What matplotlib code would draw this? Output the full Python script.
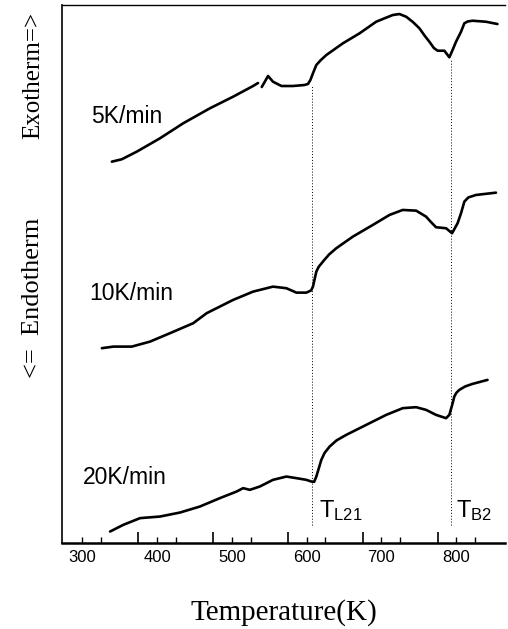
import numpy as np
import matplotlib
matplotlib.use('Agg')
import matplotlib.pyplot as plt

plt.rcParams['font.family'] = 'Liberation Sans'

# DSC traces (temperature in K, signal in arbitrary units)
T_5 = [339.6, 352.9, 372.9, 404.0, 435.0, 470.7, 501.7, 528.4, 535.0, np.nan,
       540.0, 548.4, 555.0, 566.3, 581.7, 597.0, 601.7, 605.0, 608.4, 612.9,
       619.0, 626.3, 648.4, 670.7, 692.9, 705.0, 715.0, 724.0, 733.0, 742.0,
       750.7, 758.0, 764.0, 770.0, 775.0, 784.0, 790.7, 795.0, 799.6, 806.3,
       810.7, 815.0, 821.7, 839.6, 855.0]
S_5 = [381.3, 383.7, 391.3, 404.7, 419.7, 434.7, 446.3, 457.0, 460.0, np.nan,
       456.0, 467.0, 461.3, 457.0, 457.0, 458.0, 459.0, 463.0, 469.7, 478.0,
       483.0, 488.0, 499.7, 509.7, 521.3, 525.0, 528.0, 529.0, 526.3, 521.0,
       514.7, 507.0, 501.3, 495.0, 492.3, 492.3, 485.7, 493.0, 501.3, 511.3,
       519.7, 521.5, 522.3, 521.3, 519.0]

T_10 = [326.3, 341.7, 366.3, 390.7, 417.3, 448.4, 466.3, 479.6, 501.7, 528.4,
        555.0, 572.9, 586.3, 599.6, 606.0, 608.4, 612.9, 616.0, 621.7, 630.0,
        639.6, 661.7, 688.4, 710.7, 728.4, 746.3, 759.6, 766.0, 772.9, 786.3,
        794.3, 801.7, 806.3, 810.7, 816.0, 826.3, 853.0]
S_10 = [194.7, 196.3, 196.3, 201.3, 209.7, 219.7, 229.7, 234.7, 243.0, 251.3,
        256.3, 254.7, 250.3, 250.3, 252.5, 256.3, 271.3, 276.0, 281.3, 288.5,
        294.7, 306.3, 318.0, 328.0, 333.0, 332.3, 326.3, 321.0, 315.7, 314.7,
        309.7, 319.7, 329.7, 341.3, 345.5, 348.0, 350.3]

T_20 = [337.3, 355.0, 377.3, 404.0, 430.7, 457.3, 484.0, 506.3, 515.1, 524.0,
        537.3, 555.0, 572.9, 586.3, 599.6, 606.3, 610.0, 612.9, 616.0, 619.6,
        624.0, 630.7, 640.0, 652.9, 679.6, 706.3, 728.4, 746.3, 759.6, 772.9,
        786.3, 790.7, 795.1, 797.3, 800.0, 804.0, 812.0, 821.7, 841.7]
S_20 = [11.3, 18.0, 24.7, 26.3, 30.3, 36.3, 44.7, 51.3, 54.7, 53.0,
        56.3, 63.0, 66.3, 64.7, 63.0, 61.3, 61.0, 66.3, 74.0, 83.0,
        90.0, 96.3, 102.5, 108.0, 118.0, 128.0, 134.7, 135.7, 133.0, 128.0,
        124.7, 128.0, 139.7, 146.3, 150.0, 153.0, 156.5, 159.0, 163.0]

rates = ['5K/min', '10K/min', '20K/min']
T_L21 = 606.7
T_B2 = 793.0

fig = plt.figure(figsize=(5.08, 6.29), dpi=100)
ax = fig.add_axes([0.122, 0.137, 0.872, 0.855])

for T, S in [(T_5, S_5), (T_10, S_10), (T_20, S_20)]:
    ax.plot(T, S, color='black', lw=1.9, solid_capstyle='round',
            solid_joinstyle='round')

# transition markers
ax.vlines([T_L21], 18, 458, colors='black', linestyles=(0, (1, 2)), lw=0.7)
ax.vlines([T_B2], 18, 484, colors='black', linestyles=(0, (1, 2)), lw=0.7)

ax.text(312, 426, rates[0], fontsize=16.5, va='center', ha='left')
ax.text(309, 249, rates[1], fontsize=16.5, va='center', ha='left')
ax.text(301, 65, rates[2], fontsize=16.5, va='center', ha='left')
ax.text(617, 32, r'$\mathregular{T_{L21}}$', fontsize=17, va='center', ha='left')
ax.text(799, 32, r'$\mathregular{T_{B2}}$', fontsize=17, va='center', ha='left')

ax.set_xlim(273, 865)
ax.set_ylim(0, 538)
ax.spines['right'].set_visible(False)
ax.spines['left'].set_linewidth(1.2)
ax.spines['top'].set_linewidth(1.0)
ax.spines['bottom'].set_linewidth(1.8)

ax.set_yticks([])
ax.set_xticks([300, 400, 500, 600, 700, 800])
ax.set_xticks([375, 475, 575, 675, 775], minor=True)
ax.tick_params(axis='x', which='major', direction='in', length=4, width=1,
               labelsize=12, pad=5)
ax.tick_params(axis='x', which='minor', direction='in', length=8, width=1.2)
sec = ax.secondary_xaxis('bottom')
sec.set_xticks([325, 425, 525, 625, 725, 825])
sec.tick_params(direction='in', length=4, width=1, labelbottom=False)
sec.spines['bottom'].set_visible(False)

ax.set_xlabel('Temperature(K)', family='Liberation Serif', fontsize=21, labelpad=25)

fig.text(0.065, 1 - 75 / 629, 'Exotherm=>', family='Liberation Serif', fontsize=18,
         rotation=90, ha='center', va='center')
fig.text(0.065, 1 - 298 / 629, '<=  Endotherm', family='Liberation Serif', fontsize=19,
         rotation=90, ha='center', va='center')

fig.savefig('out.png', dpi=100)
